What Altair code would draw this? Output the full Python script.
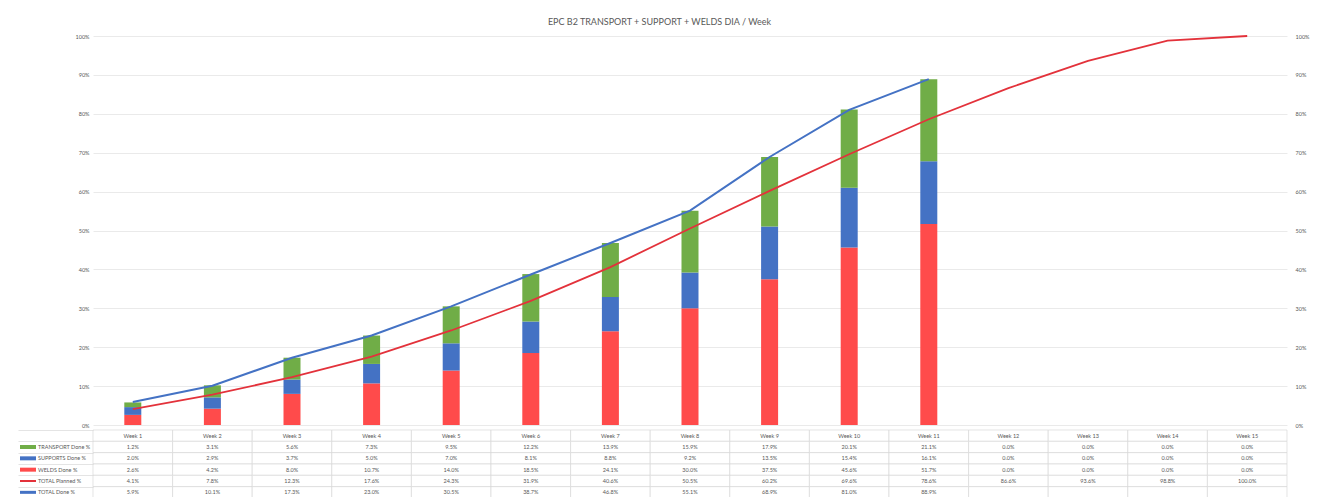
import altair as alt
import pandas as pd

weeks = ["Week 1", "Week 2", "Week 3", "Week 4", "Week 5", "Week 6", "Week 7", "Week 8",
         "Week 9", "Week 10", "Week 11", "Week 12", "Week 13", "Week 14", "Week 15"]
transport = [1.2, 3.1, 5.6, 7.3, 9.5, 12.2, 13.9, 15.9, 17.9, 20.1, 21.1, 0.0, 0.0, 0.0, 0.0]
supports = [2.0, 2.9, 3.7, 5.0, 7.0, 8.1, 8.8, 9.2, 13.5, 15.4, 16.1, 0.0, 0.0, 0.0, 0.0]
welds = [2.6, 4.2, 8.0, 10.7, 14.0, 18.5, 24.1, 30.0, 37.5, 45.6, 51.7, 0.0, 0.0, 0.0, 0.0]
planned = [4.1, 7.8, 12.3, 17.6, 24.3, 31.9, 40.6, 50.5, 60.2, 69.6, 78.6, 86.6, 93.6, 98.8, 100.0]
done = [5.9, 10.1, 17.3, 23.0, 30.5, 38.7, 46.8, 55.1, 68.9, 81.0, 88.9]

series_names = ["TRANSPORT Done %", "SUPPORTS Done %", "WELDS Done %", "TOTAL Planned %", "TOTAL Done %"]
series_colors = ["#70ad47", "#4472c4", "#ff4b4b", "#e3323b", "#4472c4"]
swatch_widths = [4, 4, 4, 2, 3]
title_text = "EPC B2 TRANSPORT + SUPPORT + WELDS DIA / Week"

FONT = "Lato"
GRAY = "#595959"
GRID = "#e4e4e4"
FS = 5.5

# ---------- data tables ----------
bar_rows = []
for i, w in enumerate(weeks):
    for name, vals, o in [("WELDS Done %", welds, 0), ("SUPPORTS Done %", supports, 1),
                          ("TRANSPORT Done %", transport, 2)]:
        bar_rows.append({"week": w, "series": name, "value": vals[i] / 100, "ord": o})
bars_df = pd.DataFrame(bar_rows)
planned_df = pd.DataFrame({"week": weeks, "v": [p / 100 for p in planned]})
done_df = pd.DataFrame({"week": weeks[:len(done)], "v": [d / 100 for d in done]})

rows = ["hdr"] + series_names
tbl = []
for i, w in enumerate(weeks):
    tbl.append({"week": w, "row": "hdr", "label": w})
    tbl.append({"week": w, "row": series_names[0], "label": f"{transport[i]:.1f}%"})
    tbl.append({"week": w, "row": series_names[1], "label": f"{supports[i]:.1f}%"})
    tbl.append({"week": w, "row": series_names[2], "label": f"{welds[i]:.1f}%"})
    tbl.append({"week": w, "row": series_names[3], "label": f"{planned[i]:.1f}%"})
    tbl.append({"week": w, "row": series_names[4], "label": f"{done[i]:.1f}%" if i < len(done) else ""})
tbl_df = pd.DataFrame(tbl)
leg_df = pd.DataFrame({"row": series_names, "color": series_colors, "sw": swatch_widths})

# ---------- main chart ----------
xscale = alt.Scale(domain=weeks, paddingInner=0, paddingOuter=0)
ydom = alt.Scale(domain=[0, 1], nice=False)
ticks = [i / 10 for i in range(11)]
left_axis = alt.Axis(format=".0%", values=ticks, ticks=False, domain=False, labelFontSize=FS,
                     labelColor=GRAY, labelFont=FONT, labelPadding=4, grid=True, gridColor=GRID,
                     gridWidth=0.8, minExtent=85, maxExtent=85, title=None)
right_axis = alt.Axis(format=".0%", values=ticks, ticks=False, domain=False, labelFontSize=FS,
                      labelColor=GRAY, labelFont=FONT, labelPadding=8, grid=False, orient="right",
                      minExtent=24, maxExtent=24, title=None)

bars = alt.Chart(bars_df).mark_bar(size=17).encode(
    x=alt.X("week:N", sort=weeks, scale=xscale, axis=None),
    y=alt.Y("value:Q", stack="zero", scale=ydom, axis=left_axis),
    color=alt.Color("series:N", scale=alt.Scale(domain=series_names[:3], range=series_colors[:3]), legend=None),
    order=alt.Order("ord:Q", sort="ascending"),
)
planned_line = alt.Chart(planned_df).mark_line(color="#e3323b", strokeWidth=1.8).encode(
    x=alt.X("week:N", sort=weeks, scale=xscale, axis=None, bandPosition=0.5),
    y=alt.Y("v:Q", scale=ydom, axis=left_axis),
)
done_line = alt.Chart(done_df).mark_line(color="#4472c4", strokeWidth=2).encode(
    x=alt.X("week:N", sort=weeks, scale=xscale, axis=None, bandPosition=0.5),
    y=alt.Y("v:Q", scale=ydom, axis=left_axis),
)
right_dummy = alt.Chart(planned_df).mark_line(opacity=0).encode(
    x=alt.X("week:N", sort=weeks, scale=xscale, axis=None, bandPosition=0.5),
    y=alt.Y("v:Q", scale=ydom, axis=right_axis),
)
main = alt.layer(alt.layer(bars, planned_line, done_line), right_dummy).resolve_scale(
    y="independent").properties(width=1194, height=389)

# ---------- data table ----------
yrow = alt.Scale(domain=rows, paddingInner=0, paddingOuter=0)
row_axis = alt.Axis(labels=False, domain=False, ticks=True, tickBand="extent", tickSize=75,
                    tickColor="#d9d9d9", tickWidth=0.7, grid=False, minExtent=85, maxExtent=85,
                    title=None)
cells = alt.Chart(tbl_df).mark_rect(fill="white", stroke="#d9d9d9", strokeWidth=0.7).encode(
    x=alt.X("week:N", sort=weeks, scale=xscale, axis=None),
    y=alt.Y("row:N", sort=rows, scale=yrow, axis=row_axis),
)
texts = alt.Chart(tbl_df).mark_text(fontSize=FS, color=GRAY, font=FONT).encode(
    x=alt.X("week:N", sort=weeks, scale=xscale, axis=None, bandPosition=0.5),
    y=alt.Y("row:N", sort=rows, scale=yrow, axis=row_axis, bandPosition=0.5),
    text="label:N",
)
swatches = alt.Chart(leg_df).mark_rule().encode(
    x=alt.value(-73), x2=alt.value(-57),
    y=alt.Y("row:N", sort=rows, scale=yrow, axis=row_axis, bandPosition=0.5),
    color=alt.Color("color:N", scale=None),
    strokeWidth=alt.StrokeWidth("sw:Q", scale=None),
)
leg_text = alt.Chart(leg_df).mark_text(align="left", fontSize=FS, color=GRAY, font=FONT).encode(
    x=alt.value(-55),
    y=alt.Y("row:N", sort=rows, scale=yrow, axis=row_axis, bandPosition=0.5),
    text="row:N",
)
table = alt.layer(cells, texts, swatches, leg_text).properties(width=1194, height=68)

chart = alt.vconcat(main, table, spacing=0).properties(
    title=alt.TitleParams(title_text, fontSize=9, color=GRAY, font=FONT, fontWeight="normal",
                          anchor="middle", offset=5),
    padding={"left": 0, "top": 10, "right": 0, "bottom": 0},
).configure_view(strokeWidth=0)

chart.save("out.html", embed_options={"renderer": "svg", "actions": False})
